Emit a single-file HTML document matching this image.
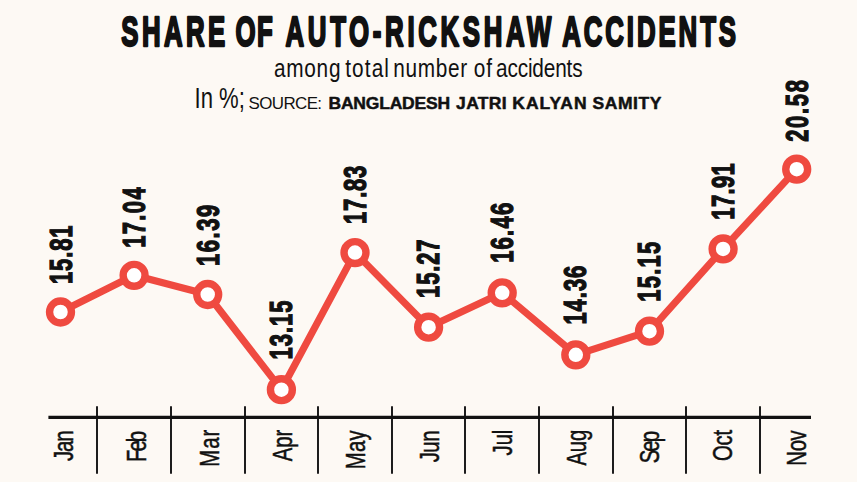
<!DOCTYPE html>
<html><head><meta charset="utf-8"><style>
html,body{margin:0;padding:0;background:#FDF9F4;width:857px;height:482px;overflow:hidden}
svg{position:absolute;left:0;top:0}
text{font-family:"Liberation Sans",sans-serif;fill:#111}
</style></head><body>
<svg width="857" height="482" viewBox="0 0 857 482">
<line x1="48.4" y1="417.4" x2="811" y2="417.4" stroke="#111" stroke-width="3.1"/>
<line x1="97.0" y1="406.2" x2="97.0" y2="473.8" stroke="#111" stroke-width="1.9"/>
<line x1="171.0" y1="406.2" x2="171.0" y2="473.8" stroke="#111" stroke-width="1.9"/>
<line x1="245.0" y1="406.2" x2="245.0" y2="473.8" stroke="#111" stroke-width="1.9"/>
<line x1="318.0" y1="406.2" x2="318.0" y2="473.8" stroke="#111" stroke-width="1.9"/>
<line x1="392.0" y1="406.2" x2="392.0" y2="473.8" stroke="#111" stroke-width="1.9"/>
<line x1="465.0" y1="406.2" x2="465.0" y2="473.8" stroke="#111" stroke-width="1.9"/>
<line x1="539.0" y1="406.2" x2="539.0" y2="473.8" stroke="#111" stroke-width="1.9"/>
<line x1="613.0" y1="406.2" x2="613.0" y2="473.8" stroke="#111" stroke-width="1.9"/>
<line x1="686.0" y1="406.2" x2="686.0" y2="473.8" stroke="#111" stroke-width="1.9"/>
<line x1="760.0" y1="406.2" x2="760.0" y2="473.8" stroke="#111" stroke-width="1.9"/>
<polyline points="60.5,312.0 134.1,275.3 207.7,294.5 281.4,389.7 355.0,252.6 428.6,327.2 502.2,292.8 575.8,354.8 649.5,331.2 723.1,248.9 796.7,169.2" fill="none" stroke="#EF4A40" stroke-width="7.1" stroke-linejoin="round"/>
<circle cx="60.5" cy="312.0" r="10.95" fill="#fff" stroke="#EF4A40" stroke-width="7.4"/>
<circle cx="134.1" cy="275.3" r="10.95" fill="#fff" stroke="#EF4A40" stroke-width="7.4"/>
<circle cx="207.7" cy="294.5" r="10.95" fill="#fff" stroke="#EF4A40" stroke-width="7.4"/>
<circle cx="281.4" cy="389.7" r="10.95" fill="#fff" stroke="#EF4A40" stroke-width="7.4"/>
<circle cx="355.0" cy="252.6" r="10.95" fill="#fff" stroke="#EF4A40" stroke-width="7.4"/>
<circle cx="428.6" cy="327.2" r="10.95" fill="#fff" stroke="#EF4A40" stroke-width="7.4"/>
<circle cx="502.2" cy="292.8" r="10.95" fill="#fff" stroke="#EF4A40" stroke-width="7.4"/>
<circle cx="575.8" cy="354.8" r="10.95" fill="#fff" stroke="#EF4A40" stroke-width="7.4"/>
<circle cx="649.5" cy="331.2" r="10.95" fill="#fff" stroke="#EF4A40" stroke-width="7.4"/>
<circle cx="723.1" cy="248.9" r="10.95" fill="#fff" stroke="#EF4A40" stroke-width="7.4"/>
<circle cx="796.7" cy="169.2" r="10.95" fill="#fff" stroke="#EF4A40" stroke-width="7.4"/>
<text transform="translate(121.33 45.76) scale(0.600 1)" font-size="43.00" font-weight="bold" textLength="173.27" lengthAdjust="spacing" stroke="#111" stroke-width="2.00" stroke-linejoin="round" vector-effect="non-scaling-stroke">SHARE</text>
<text transform="translate(235.50 45.76) scale(0.600 1)" font-size="43.00" font-weight="bold" textLength="61.95" lengthAdjust="spacing" stroke="#111" stroke-width="2.00" stroke-linejoin="round" vector-effect="non-scaling-stroke">OF</text>
<text transform="translate(285.54 45.76) scale(0.600 1)" font-size="43.00" font-weight="bold" textLength="442.87" lengthAdjust="spacing" stroke="#111" stroke-width="2.00" stroke-linejoin="round" vector-effect="non-scaling-stroke">AUTO-RICKSHAW</text>
<text transform="translate(562.17 45.76) scale(0.600 1)" font-size="43.00" font-weight="bold" textLength="289.82" lengthAdjust="spacing" stroke="#111" stroke-width="2.00" stroke-linejoin="round" vector-effect="non-scaling-stroke">ACCIDENTS</text>
<text transform="translate(273.93 76.92) scale(0.800 1)" font-size="26.00" font-weight="normal" textLength="83.21" lengthAdjust="spacing" vector-effect="non-scaling-stroke">among</text>
<text transform="translate(345.26 76.92) scale(0.800 1)" font-size="26.00" font-weight="normal" textLength="54.56" lengthAdjust="spacing" vector-effect="non-scaling-stroke">total</text>
<text transform="translate(393.32 76.92) scale(0.800 1)" font-size="26.00" font-weight="normal" textLength="92.41" lengthAdjust="spacing" vector-effect="non-scaling-stroke">number</text>
<text transform="translate(473.65 76.92) scale(0.800 1)" font-size="26.00" font-weight="normal" textLength="23.13" lengthAdjust="spacing" vector-effect="non-scaling-stroke">of</text>
<text transform="translate(495.97 76.92) scale(0.800 1)" font-size="26.00" font-weight="normal" textLength="108.36" lengthAdjust="spacing" vector-effect="non-scaling-stroke">accidents</text>
<text x="194.54" y="108.11" font-size="29.00" font-weight="normal" textLength="50.33" lengthAdjust="spacingAndGlyphs">In %;</text>
<text transform="translate(248.62 108.61) scale(1.060 1)" font-size="16.00" font-weight="normal" textLength="69.27" lengthAdjust="spacing" vector-effect="non-scaling-stroke">SOURCE:</text>
<text transform="translate(328.52 108.71) scale(1.100 1)" font-size="15.90" font-weight="bold" textLength="110.49" lengthAdjust="spacing" stroke="#111" stroke-width="0.50" stroke-linejoin="round" vector-effect="non-scaling-stroke">BANGLADESH</text>
<text transform="translate(456.12 108.71) scale(1.100 1)" font-size="15.90" font-weight="bold" textLength="45.86" lengthAdjust="spacing" stroke="#111" stroke-width="0.50" stroke-linejoin="round" vector-effect="non-scaling-stroke">JATRI</text>
<text transform="translate(512.36 108.71) scale(1.100 1)" font-size="15.90" font-weight="bold" textLength="67.41" lengthAdjust="spacing" stroke="#111" stroke-width="0.50" stroke-linejoin="round" vector-effect="non-scaling-stroke">KALYAN</text>
<text transform="translate(592.56 108.71) scale(1.100 1)" font-size="15.90" font-weight="bold" textLength="62.61" lengthAdjust="spacing" stroke="#111" stroke-width="0.50" stroke-linejoin="round" vector-effect="non-scaling-stroke">SAMITY</text>
<text transform="translate(71.65 284.09) rotate(-90) scale(0.710 1)" font-size="31.00" font-weight="bold" textLength="82.70" lengthAdjust="spacing" stroke="#111" stroke-width="1.10" vector-effect="non-scaling-stroke">15.81</text>
<text transform="translate(145.20 247.86) rotate(-90) scale(0.710 1)" font-size="31.00" font-weight="bold" textLength="85.23" lengthAdjust="spacing" stroke="#111" stroke-width="1.10" vector-effect="non-scaling-stroke">17.04</text>
<text transform="translate(218.93 266.00) rotate(-90) scale(0.710 1)" font-size="31.00" font-weight="bold" textLength="86.25" lengthAdjust="spacing" stroke="#111" stroke-width="1.10" vector-effect="non-scaling-stroke">16.39</text>
<text transform="translate(292.19 359.48) rotate(-90) scale(0.710 1)" font-size="31.00" font-weight="bold" textLength="83.20" lengthAdjust="spacing" stroke="#111" stroke-width="1.10" vector-effect="non-scaling-stroke">13.15</text>
<text transform="translate(365.53 223.89) rotate(-90) scale(0.710 1)" font-size="31.00" font-weight="bold" textLength="81.97" lengthAdjust="spacing" stroke="#111" stroke-width="1.10" vector-effect="non-scaling-stroke">17.83</text>
<text transform="translate(439.13 297.89) rotate(-90) scale(0.710 1)" font-size="31.00" font-weight="bold" textLength="82.39" lengthAdjust="spacing" stroke="#111" stroke-width="1.10" vector-effect="non-scaling-stroke">15.27</text>
<text transform="translate(512.90 262.86) rotate(-90) scale(0.710 1)" font-size="31.00" font-weight="bold" textLength="84.55" lengthAdjust="spacing" stroke="#111" stroke-width="1.10" vector-effect="non-scaling-stroke">16.46</text>
<text transform="translate(586.29 324.61) rotate(-90) scale(0.710 1)" font-size="31.00" font-weight="bold" textLength="83.06" lengthAdjust="spacing" stroke="#111" stroke-width="1.10" vector-effect="non-scaling-stroke">14.36</text>
<text transform="translate(660.11 301.86) rotate(-90) scale(0.710 1)" font-size="31.00" font-weight="bold" textLength="84.73" lengthAdjust="spacing" stroke="#111" stroke-width="1.10" vector-effect="non-scaling-stroke">15.15</text>
<text transform="translate(734.45 219.65) rotate(-90) scale(0.710 1)" font-size="31.00" font-weight="bold" textLength="79.39" lengthAdjust="spacing" stroke="#111" stroke-width="1.10" vector-effect="non-scaling-stroke">17.91</text>
<text transform="translate(808.01 141.85) rotate(-90) scale(0.710 1)" font-size="31.00" font-weight="bold" textLength="87.06" lengthAdjust="spacing" stroke="#111" stroke-width="1.10" vector-effect="non-scaling-stroke">20.58</text>
<text transform="translate(72.60 460.90) rotate(-90) scale(0.720 1)" font-size="28.20" textLength="42.33" lengthAdjust="spacing" stroke="#111" stroke-width="0.45" vector-effect="non-scaling-stroke">Jan</text>
<text transform="translate(145.80 462.06) rotate(-90) scale(0.720 1)" font-size="28.20" textLength="43.32" lengthAdjust="spacing" stroke="#111" stroke-width="0.45" vector-effect="non-scaling-stroke">Feb</text>
<text transform="translate(218.70 466.70) rotate(-90) scale(0.720 1)" font-size="28.20" textLength="51.22" lengthAdjust="spacing" stroke="#111" stroke-width="0.45" vector-effect="non-scaling-stroke">Mar</text>
<text transform="translate(291.60 461.36) rotate(-90) scale(0.720 1)" font-size="28.20" textLength="43.93" lengthAdjust="spacing" stroke="#111" stroke-width="0.45" vector-effect="non-scaling-stroke">Apr</text>
<text transform="translate(365.30 469.31) rotate(-90) scale(0.720 1)" font-size="28.20" textLength="54.25" lengthAdjust="spacing" stroke="#111" stroke-width="0.45" vector-effect="non-scaling-stroke">May</text>
<text transform="translate(439.20 462.32) rotate(-90) scale(0.720 1)" font-size="28.20" textLength="44.19" lengthAdjust="spacing" stroke="#111" stroke-width="0.45" vector-effect="non-scaling-stroke">Jun</text>
<text transform="translate(512.20 455.42) rotate(-90) scale(0.720 1)" font-size="28.20" textLength="35.82" lengthAdjust="spacing" stroke="#111" stroke-width="0.45" vector-effect="non-scaling-stroke">Jul</text>
<text transform="translate(586.20 465.52) rotate(-90) scale(0.720 1)" font-size="28.20" textLength="49.78" lengthAdjust="spacing" stroke="#111" stroke-width="0.45" vector-effect="non-scaling-stroke">Aug</text>
<text transform="translate(658.70 463.34) rotate(-90) scale(0.720 1)" font-size="28.20" textLength="45.07" lengthAdjust="spacing" stroke="#111" stroke-width="0.45" vector-effect="non-scaling-stroke">Sep</text>
<text transform="translate(732.20 461.05) rotate(-90) scale(0.720 1)" font-size="28.20" textLength="43.21" lengthAdjust="spacing" stroke="#111" stroke-width="0.45" vector-effect="non-scaling-stroke">Oct</text>
<text transform="translate(805.80 465.65) rotate(-90) scale(0.720 1)" font-size="28.20" textLength="49.18" lengthAdjust="spacing" stroke="#111" stroke-width="0.45" vector-effect="non-scaling-stroke">Nov</text>
</svg>
</body></html>
